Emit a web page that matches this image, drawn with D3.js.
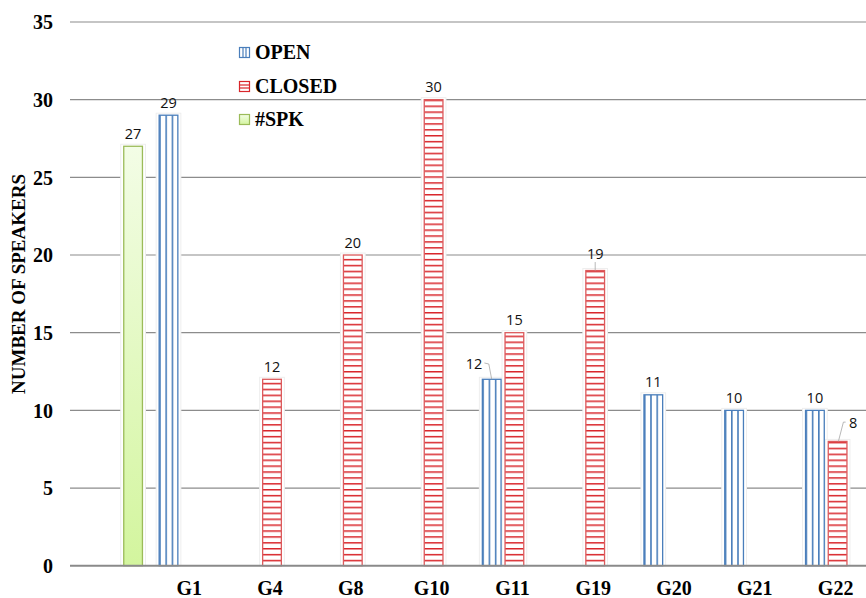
<!DOCTYPE html>
<html>
<head>
<meta charset="utf-8">
<script src="https://cdn.jsdelivr.net/npm/d3@7"></script>
<style>
  html, body { margin: 0; padding: 0; background: #fff; overflow: hidden; }
  svg { display: block; }
</style>
</head>
<body>
<svg id="chart" width="866" height="598"></svg>
<script>
// Speaker counts per group
const categories = ["", "G1", "G4", "G8", "G10", "G11", "G19", "G20", "G21", "G22"];
const seriesNames = ["OPEN", "CLOSED", "#SPK"];
const openValues   = [null, 29, null, null, null, 12, null, 11, 10, 10];
const closedValues = [null, null, 12, 20, 30, 15, 19, null, null, 8];
const spkValues    = [27, null, null, null, null, null, null, null, null, null];
const yTicks = [0, 5, 10, 15, 20, 25, 30, 35];
const yTitle = "NUMBER OF SPEAKERS";

const seriesValues = { "OPEN": openValues, "CLOSED": closedValues, "#SPK": spkValues };

const svg = d3.select("#chart");
const width = 866, height = 598;
const serif = "'Liberation Serif', 'Times New Roman', serif";
const sans = "'Open Sans', 'Noto Sans', sans-serif";

const plotLeft = 70, plotRight = 878, plotTop = 22, plotBottom = 565.7;

const x0 = d3.scaleBand().domain(categories).range([plotLeft, plotRight]).paddingInner(0).paddingOuter(0);
const groupPad = 8.35;
const x1 = d3.scaleBand().domain(seriesNames)
  .range([groupPad, x0.bandwidth() - groupPad]).paddingInner(0.176).paddingOuter(0);
const y = d3.scaleLinear().domain([0, 35]).range([plotBottom, plotTop]);

// Fill patterns
const defs = svg.append("defs");
const blue = "#4a7ebb", red = "#d9262b", green = "#9bbb59";

const pOpen = defs.append("pattern").attr("id", "pat-open")
  .attr("patternUnits", "objectBoundingBox").attr("width", 1 / 3).attr("height", 1);
pOpen.append("rect").attr("width", 40).attr("height", 1000).attr("fill", "#fff");
pOpen.append("rect").attr("x", 0).attr("width", 1.6).attr("height", 1000).attr("fill", blue);

const pClosed = defs.append("pattern").attr("id", "pat-closed")
  .attr("patternUnits", "userSpaceOnUse").attr("x", 0).attr("y", plotBottom)
  .attr("width", 10).attr("height", 5.9);
pClosed.append("rect").attr("width", 10).attr("height", 5.9).attr("fill", "#fff");
pClosed.append("rect").attr("y", 0).attr("width", 10).attr("height", 1.5).attr("fill", red);

const gSpk = defs.append("linearGradient").attr("id", "grad-spk")
  .attr("x1", 0).attr("y1", 0).attr("x2", 0).attr("y2", 1);
gSpk.append("stop").attr("offset", "0%").attr("stop-color", "#f3fde6");
gSpk.append("stop").attr("offset", "100%").attr("stop-color", "#d3f59e");

const fills = { "OPEN": "url(#pat-open)", "CLOSED": "url(#pat-closed)", "#SPK": "url(#grad-spk)" };
const strokes = { "OPEN": blue, "CLOSED": "#dc5a5c", "#SPK": green };

// Gridlines
svg.append("g").selectAll("line").data(yTicks.filter(t => t > 0)).join("line")
  .attr("x1", plotLeft).attr("x2", width)
  .attr("y1", d => y(d)).attr("y2", d => y(d))
  .attr("stroke", "#8c8c8c").attr("stroke-width", 1.2);

// Y axis tick labels
const yAxis = d3.axisLeft(y).tickValues(yTicks).tickSize(0).tickPadding(17);
const gy = svg.append("g").attr("transform", `translate(${plotLeft},0)`).call(yAxis);
gy.select(".domain").remove();
gy.selectAll("text").attr("font-family", serif).attr("font-weight", "bold")
  .attr("font-size", 20).attr("fill", "#000").attr("dy", "0.34em");

// Y axis title
svg.append("text")
  .attr("transform", `translate(25,284) rotate(-90)`)
  .attr("text-anchor", "middle")
  .attr("font-family", serif).attr("font-weight", "bold").attr("font-size", 19)
  .text(yTitle);

// Bars
const bars = [];
categories.forEach((c, i) => {
  seriesNames.forEach(s => {
    const v = seriesValues[s][i];
    if (v != null) bars.push({ cat: c, series: s, value: v });
  });
});

const gBars = svg.append("g");
const barX = d => x0(d.cat) + x1(d.series);
const bw = x1.bandwidth();

// soft white halo around each bar
gBars.selectAll("rect.halo").data(bars).join("rect").attr("class", "halo")
  .attr("x", d => barX(d) - 3).attr("y", d => y(d.value) - 2)
  .attr("width", bw + 6).attr("height", d => plotBottom - y(d.value) + 2)
  .attr("fill", "#fff").attr("stroke", "#eeeeee").attr("stroke-width", 1);

gBars.selectAll("rect.bar").data(bars).join("rect").attr("class", "bar")
  .attr("x", d => barX(d)).attr("y", d => y(d.value))
  .attr("width", bw).attr("height", d => plotBottom - y(d.value))
  .attr("fill", d => fills[d.series])
  .attr("stroke", d => strokes[d.series]).attr("stroke-width", 1.3);

// Baseline
svg.append("line").attr("x1", plotLeft).attr("x2", width)
  .attr("y1", y(0)).attr("y2", y(0))
  .attr("stroke", "#8a8a8a").attr("stroke-width", 2);

// X axis category labels
const xAxis = d3.axisBottom(x0).tickSize(0).tickPadding(0);
const gx = svg.append("g").attr("transform", `translate(0,${plotBottom})`).call(xAxis);
gx.select(".domain").remove();
gx.selectAll("text").attr("font-family", serif).attr("font-weight", "bold")
  .attr("font-size", 20).attr("fill", "#000").attr("y", 29.5).attr("dy", 0)
  .attr("dx", -2);

// Value labels (some are moved aside with a leader line)
const labelMoves = {
  "G11|OPEN": { dx: -17.6, dy: -10.6, leader: [[-7.3, -16.3], [-2.9, -15.3], [0, 0]] },
  "G22|CLOSED": { dx: 15.5, dy: -13.3, leader: [[8, -19.3], [5.8, -19.3], [0.8, 0]] },
  "G19|CLOSED": { dx: 0, dy: -11.7, leader: [[0, -8.5], [0, 0]] }
};
const gLabels = svg.append("g");
bars.forEach(d => {
  const cx = barX(d) + bw / 2, top = y(d.value);
  const m = labelMoves[d.cat + "|" + d.series] || { dx: 0, dy: -7.5 };
  if (m.leader) {
    gLabels.append("path")
      .attr("d", d3.line()(m.leader.map(p => [cx + p[0], top + p[1]])))
      .attr("fill", "none").attr("stroke", "#a6a6a6").attr("stroke-width", 0.8);
  }
  gLabels.append("text")
    .attr("x", cx + m.dx).attr("y", top + m.dy)
    .attr("text-anchor", "middle")
    .attr("font-family", sans).attr("font-size", 14.5).attr("fill", "#111")
    .text(d3.format("d")(d.value));
});

// Legend
const legend = svg.append("g");
const legendRows = [
  { name: "OPEN", baseline: 59 },
  { name: "CLOSED", baseline: 93 },
  { name: "#SPK", baseline: 126 }
];
legendRows.forEach(r => {
  const g = legend.append("g");
  const my = r.baseline - 11.5;
  if (r.name === "OPEN") {
    g.append("rect").attr("x", 239.5).attr("y", my).attr("width", 10).attr("height", 10)
      .attr("fill", "#fff").attr("stroke", blue).attr("stroke-width", 1.2);
    [243, 246].forEach(lx => g.append("line").attr("x1", lx).attr("x2", lx)
      .attr("y1", my).attr("y2", my + 10).attr("stroke", blue).attr("stroke-width", 1.2));
  } else if (r.name === "CLOSED") {
    g.append("rect").attr("x", 239.5).attr("y", my).attr("width", 10).attr("height", 10)
      .attr("fill", "#fff").attr("stroke", red).attr("stroke-width", 1.2);
    [my + 3.5, my + 6.5].forEach(ly => g.append("line").attr("x1", 239.5).attr("x2", 249.5)
      .attr("y1", ly).attr("y2", ly).attr("stroke", red).attr("stroke-width", 1.2));
  } else {
    g.append("rect").attr("x", 239.5).attr("y", my).attr("width", 10).attr("height", 10)
      .attr("fill", "url(#grad-spk)").attr("stroke", green).attr("stroke-width", 1.2);
  }
  g.append("text").attr("x", 255).attr("y", r.baseline)
    .attr("font-family", serif).attr("font-weight", "bold").attr("font-size", 20)
    .attr("fill", "#000").text(r.name);
});
</script>
</body>
</html>
